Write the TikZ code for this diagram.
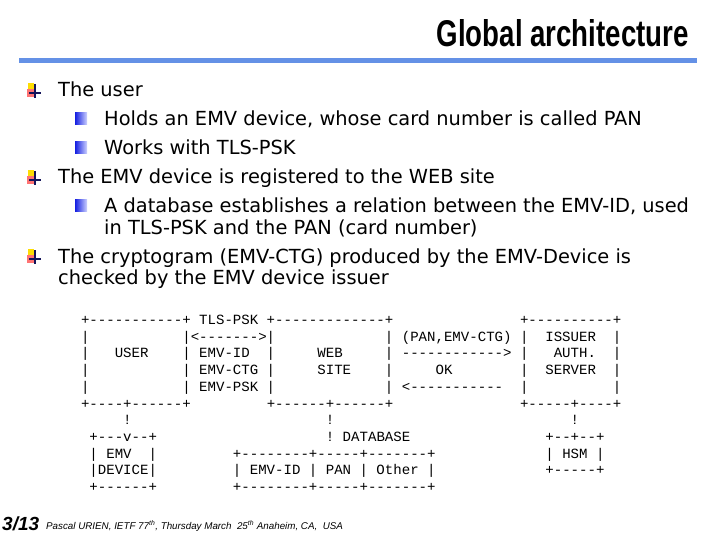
\documentclass[tikz,border=0pt]{standalone}
\usepackage{fontspec}
\setmainfont{DejaVu Sans}
\setmonofont{Liberation Mono}
\newfontfamily\titlefont{Liberation Sans}
\newfontfamily\footfont{Liberation Sans}
\definecolor{rulecol}{RGB}{100,145,230}
\definecolor{navy}{RGB}{20,20,90}
\begin{document}
\begin{tikzpicture}[x=1pt,y=-1pt,
  txt/.style={anchor=base west,inner sep=0pt,font=\fontsize{19.4}{23}\selectfont},
  asc/.style={anchor=base west,inner sep=0pt,font=\ttfamily\fontsize{14.07}{17}\selectfont},
  bulA/.pic={
    \fill[yellow!80!orange] (1,-14) rectangle (7,-6);
    \fill[red!55!white] (0,-8) rectangle (8,0);
    \draw[navy,line width=1.5pt] (8,-13) -- (8,1);
    \draw[navy,line width=1.5pt] (2,-4) -- (14,-4);
  },
  bulB/.pic={
    \shade[left color={rgb,255:red,20;green,30;blue,225},right color={rgb,255:red,205;green,210;blue,255}] (0,-13) rectangle (12,-1);
  }]
\useasboundingbox (0,0) rectangle (720,540);
\fill[white] (0,0) rectangle (720,540);
% title
\node[anchor=base east,inner sep=0pt] (title) at (689,47) {\resizebox{252pt}{27pt}{\titlefont\bfseries Global architecture}};
\fill[rulecol] (19,58) rectangle (697,63);
% bullets
\pic at (27,97) {bulA};
\pic at (75,126) {bulB};
\pic at (75,155) {bulB};
\pic at (27,184) {bulA};
\pic at (75,213) {bulB};
\pic at (27,263) {bulA};
\node[txt] (t1) at (58,97) {The user};
\node[txt] (t2) at (104,126) {Holds an EMV device, whose card number is called PAN};
\node[txt] (t3) at (104,155) {Works with TLS-PSK};
\node[txt] (t4) at (58,184) {The EMV device is registered to the WEB site};
\node[txt] (t5) at (104,213) {A database establishes a relation between the EMV-ID, used};
\node[txt] (t6) at (104,234) {in TLS-PSK and the PAN (card number)};
\node[txt] (t7) at (58,263) {The cryptogram (EMV-CTG) produced by the EMV-Device is};
\node[txt] (t8) at (58,284) {checked by the EMV device issuer};
% ascii diagram
\node[asc] (l1) at (80.8,324) {+-----------+~TLS-PSK~+-------------+~~~~~~~~~~~~~~~+----------+};
\node[asc] (l2) at (80.8,341) {|~~~~~~~~~~~|<------->|~~~~~~~~~~~~~|~(PAN,EMV-CTG)~|~~ISSUER~~|};
\node[asc] (l3) at (80.8,357.5) {|~~~USER~~~~|~EMV-ID~~|~~~~~WEB~~~~~|~------------>~|~~~AUTH.~~|};
\node[asc] (l4) at (80.8,374) {|~~~~~~~~~~~|~EMV-CTG~|~~~~~SITE~~~~|~~~~~OK~~~~~~~~|~~SERVER~~|};
\node[asc] (l5) at (80.8,391) {|~~~~~~~~~~~|~EMV-PSK~|~~~~~~~~~~~~~|~<-----------~~|~~~~~~~~~~|};
\node[asc] (l6) at (80.8,408) {+----+------+~~~~~~~~~+------+------+~~~~~~~~~~~~~~~+-----+----+};
\node[asc] (l7) at (80.8,424.5) {~~~~~!~~~~~~~~~~~~~~~~~~~~~~~!~~~~~~~~~~~~~~~~~~~~~~~~~~~~!};
\node[asc] (l8) at (80.8,441) {~+---v--+~~~~~~~~~~~~~~~~~~~~!~DATABASE~~~~~~~~~~~~~~~~+--+--+};
\node[asc] (l9) at (80.8,458) {~|~EMV~~|~~~~~~~~~+--------+-----+-------+~~~~~~~~~~~~~|~HSM~|};
\node[asc] (l10) at (80.8,474.5) {~|DEVICE|~~~~~~~~~|~EMV-ID~|~PAN~|~Other~|~~~~~~~~~~~~~+-----+};
\node[asc] (l11) at (80.8,491) {~+------+~~~~~~~~~+--------+-----+-------+};
% footer
\node[anchor=base west,inner sep=0pt,font=\footfont\bfseries\itshape\fontsize{19}{20}\selectfont] (pg) at (2,530) {3/13};
\node[anchor=base west,inner sep=0pt,font=\footfont\itshape\fontsize{9.8}{12}\selectfont] (ft) at (46,529) {Pascal URIEN, IETF 77\textsuperscript{th}, Thursday March~~25\textsuperscript{th} Anaheim, CA,~~USA};
\end{tikzpicture}
\end{document}
